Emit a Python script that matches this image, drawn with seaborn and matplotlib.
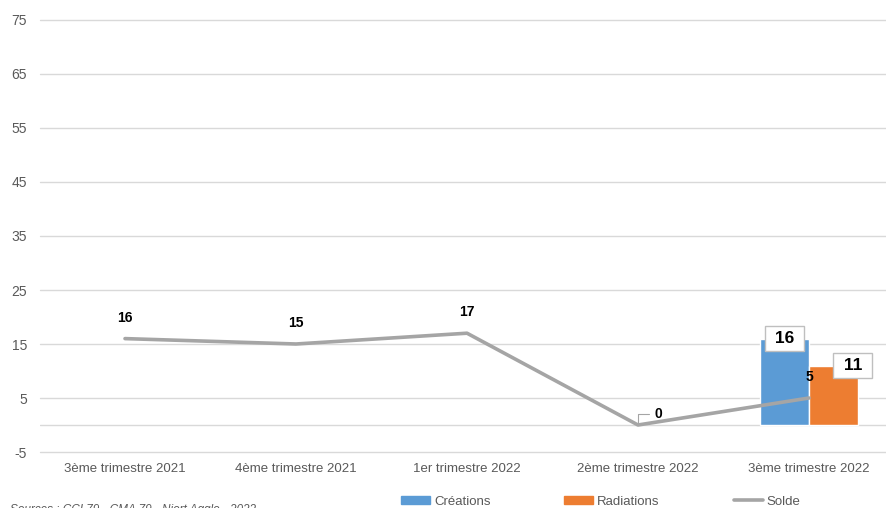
import numpy as np
import pandas as pd
import matplotlib
matplotlib.use("Agg")
import matplotlib.pyplot as plt
import seaborn as sns
from matplotlib.lines import Line2D
from matplotlib.patches import Patch

categories = ["3ème trimestre 2021", "4ème trimestre 2021", "1er trimestre 2022",
              "2ème trimestre 2022", "3ème trimestre 2022"]
bar_categories = ["3ème trimestre 2022", "3ème trimestre 2022"]
bar_series = ["Créations", "Radiations"]
bar_values = [16, 11]
solde_values = [16, 15, 17, 0, 5]
y_ticks = [-5, 5, 15, 25, 35, 45, 55, 65, 75]
source_text = "Sources : CCI 79 - CMA 79 - Niort Agglo - 2022"

colors = {"Créations": "#5B9BD5", "Radiations": "#ED7D31"}
line_color = "#A5A5A5"
text_gray = "#595959"

sns.set_theme(style="white")
plt.rcParams["font.family"] = ["Liberation Sans", "DejaVu Sans"]
plt.rcParams["axes.unicode_minus"] = False

fig = plt.figure(figsize=(8.86, 5.08), dpi=100)
ax = fig.add_axes([39.5 / 886, 56 / 508, 855 / 886, 432 / 508])

df = pd.DataFrame({"cat": bar_categories, "series": bar_series, "val": bar_values})
sns.barplot(data=df, x="cat", y="val", hue="series", order=categories,
            hue_order=bar_series, palette=colors, width=0.57, ax=ax,
            saturation=1, legend=False, zorder=2)

positions = np.arange(len(categories))
sns.lineplot(x=positions, y=solde_values, color=line_color, linewidth=2.6,
             ax=ax, zorder=3, legend=False)

ax.set_ylim(-5, 75)
ax.set_xlim(-0.5, len(categories) - 0.5)
ax.set_yticks(y_ticks)
ax.yaxis.grid(True, color="#D9D9D9", linewidth=1)
for gl in ax.get_ygridlines():
    gl.set_clip_on(False)
ax.set_axisbelow(True)
ax.axhline(0, color="#D9D9D9", linewidth=1, zorder=1)
for s in ax.spines.values():
    s.set_visible(False)
ax.set_xlabel("")
ax.set_ylabel("")
ax.tick_params(axis="y", length=0, pad=9, labelsize=10, labelcolor=text_gray)
ax.tick_params(axis="x", length=0, pad=8, labelsize=9.5, labelcolor=text_gray)
ax.set_xticks(positions)
ax.set_xticklabels(categories)

# Solde labels
for i, v in enumerate(solde_values):
    if v == 0:
        ax.annotate(str(v), xy=(i, v), xytext=(12, 8), textcoords="offset points",
                    ha="left", va="center", fontsize=10, fontweight="bold",
                    color="black",
                    arrowprops=dict(arrowstyle="-", color="#A5A5A5", lw=0.8,
                                    shrinkA=2, shrinkB=1,
                                    connectionstyle="angle,angleA=0,angleB=90,rad=0"))
    else:
        ax.annotate(str(v), xy=(i, v), xytext=(0, 15), textcoords="offset points",
                    ha="center", va="center", fontsize=10, fontweight="bold",
                    color="black")

# Bar labels
offsets = [0, 14]
for bar, off in zip(ax.patches, offsets):
    x = bar.get_x() + bar.get_width() / 2
    h = bar.get_height()
    ax.annotate(f" {int(round(h))} ", xy=(x, h), xytext=(off, 0),
                textcoords="offset points", ha="center", va="center",
                fontsize=12.5, fontweight="bold", color="black", zorder=5,
                bbox=dict(boxstyle="square,pad=0.3", fc="white", ec="#BFBFBF", lw=1))

handles = [Patch(color=colors["Créations"], label="Créations"),
           Patch(color=colors["Radiations"], label="Radiations"),
           Line2D([0], [0], color=line_color, lw=2.6, label="Solde")]
fig.legend(handles=handles, loc="center", bbox_to_anchor=(0.678, 0.012), ncol=3,
           frameon=False, fontsize=9.5, labelcolor=text_gray, columnspacing=5.6,
           handlelength=2.2, handleheight=0.6, handletextpad=0.3)

fig.text(10 / 886, -0.003, source_text, fontsize=8.5, style="italic",
         color=text_gray, ha="left", va="center")

fig.savefig("out.png", dpi=100)
